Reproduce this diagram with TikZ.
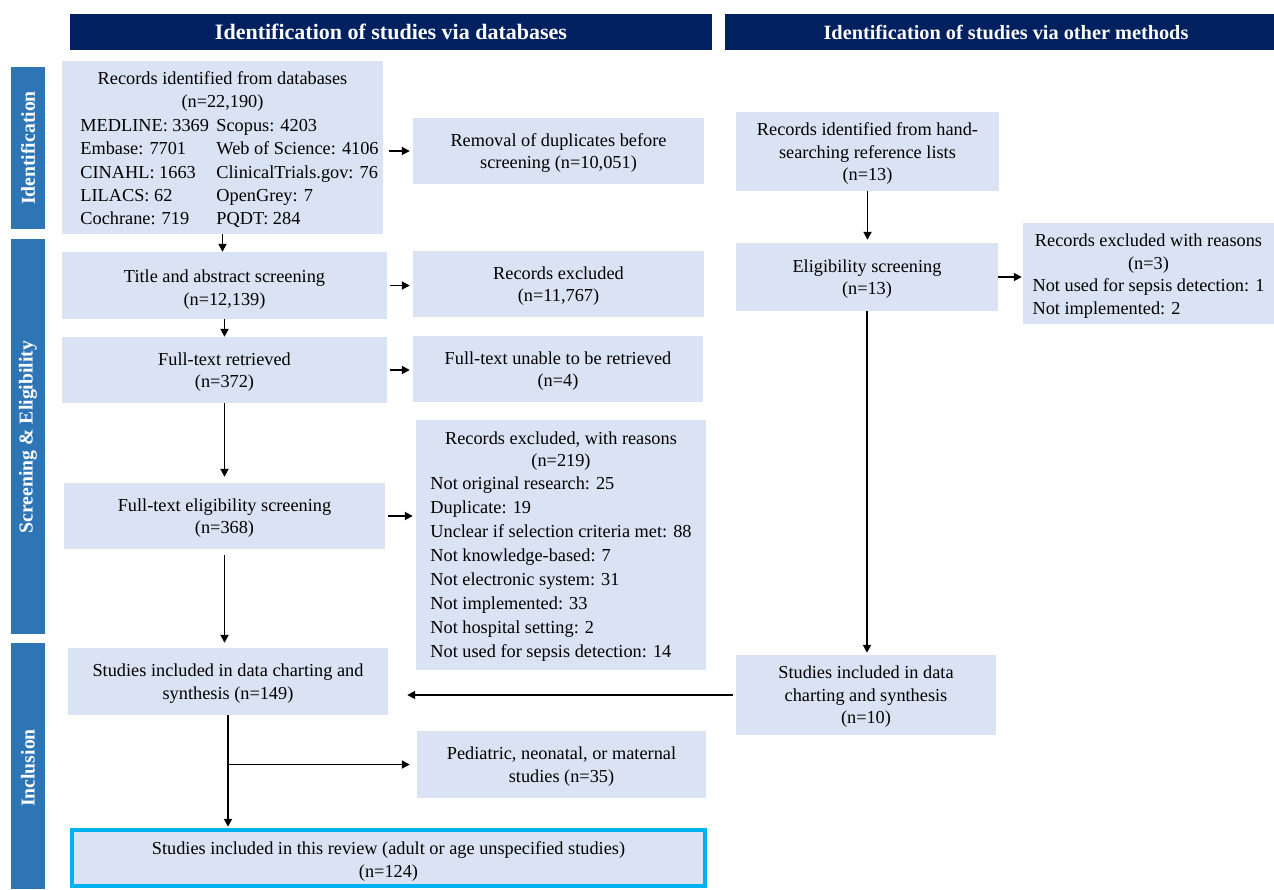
\documentclass[tikz,border=0pt]{standalone}
\usepackage{fontspec}
\setmainfont{Liberation Serif}
\usetikzlibrary{arrows.meta}
\definecolor{navy}{HTML}{002060}
\definecolor{sidec}{HTML}{2E75B6}
\definecolor{boxfill}{HTML}{DAE3F3}
\definecolor{cyanb}{HTML}{00B0F0}
\newcommand\bodyfs{\fontsize{18.3}{22.5}\selectfont}
% #1 style, #2 name, #3..#6 corners, #7 text shift (down), #8 text
\newcommand\pbox[8][box]{%
  \node[#1, minimum width={#5-#3}, minimum height={#6-#4}] (#2) at ({(#3+#5)/2},{(#4+#6)/2}) {};
  \node[txt] (#2t) at ([yshift=-#7pt]#2.center) {#8};}
\begin{document}
\begin{tikzpicture}[x=1pt,y=-1pt,
  box/.style={fill=boxfill, inner sep=0pt},
  txt/.style={inner sep=0pt, align=center, font=\bodyfs},
  hdr/.style={fill=navy, inner sep=0pt},
  hdrtxt/.style={text=white, inner sep=0pt, font=\bfseries},
  sidebar/.style={fill=sidec, inner sep=0pt},
  sidetxt/.style={text=white, inner sep=0pt, rotate=90, font=\bfseries\fontsize{19.7}{22}\selectfont},
  finalbox/.style={fill=boxfill, draw=cyanb, line width=4.5pt, inner sep=0pt},
  arr/.style={-{Triangle[length=8pt,width=8pt]}, line width=1.8pt}]
\useasboundingbox (0,0) rectangle (1274,889);
% headers
\node[hdr, minimum width=642, minimum height=36] (hdrA) at (391,32) {};
\node[hdr, minimum width=549, minimum height=36] (hdrB) at (999.5,32) {};
\node[hdrtxt, font=\bfseries\fontsize{22}{24}\selectfont] (hdrAt) at (391,32) {Identification of studies via databases};
\node[hdrtxt, font=\bfseries\fontsize{20.3}{24}\selectfont] (hdrBt) at (1006,32) {Identification of studies via other methods};
% sidebars
\node[sidebar, minimum width=34, minimum height=162] (sideI) at (28,148) {};
\node[sidebar, minimum width=34, minimum height=395] (sideS) at (28,436.5) {};
\node[sidebar, minimum width=34, minimum height=246] (sideN) at (28,766) {};
\node[sidetxt] (sideIt) at (28,148) {Identification};
\node[sidetxt] (sideSt) at (28,437) {Screening \& Eligibility};
\node[sidetxt] (sideNt) at (28,768) {Inclusion};
% left column
\pbox{db}{62}{61}{383}{234}{4}{Records identified from databases\\[0.7pt](n=22,190)\\[1.2pt]
  \begin{tabular}[t]{@{}p{136pt}@{}l@{\hspace{-14pt}}}
  MEDLINE: 3369 & Scopus: 4203\\[0.8pt]
  Embase: 7701 & Web of Science: 4106\\[0.8pt]
  CINAHL: 1663 & ClinicalTrials.gov: 76\\[0.8pt]
  LILACS: 62 & OpenGrey: 7\\[0.8pt]
  Cochrane: 719 & PQDT: 284
  \end{tabular}}
\pbox{dup}{413}{118}{704}{184}{2}{Removal of duplicates before\\screening (n=10,051)}
\pbox{tas}{62}{252}{387}{319}{4}{Title and abstract screening\\(n=12,139)}
\pbox{exc1}{413}{251}{704}{317}{2}{Records excluded\\(n=11,767)}
\pbox{ftr}{62}{337}{387}{403}{2}{Full-text retrieved\\(n=372)}
\pbox{ftu}{413}{336}{703}{402}{2}{Full-text unable to be retrieved\\(n=4)}
\pbox{fte}{64}{483}{385}{549}{2}{Full-text eligibility screening\\(n=368)}
\pbox{exc219}{416}{420}{706}{670}{3}{Records excluded, with reasons\\(n=219)\\
  \begin{tabular}[t]{@{}l@{}}
  Not original research: 25\\[1.6pt]
  Duplicate: 19\\[1.6pt]
  Unclear if selection criteria met: 88\\[1.6pt]
  Not knowledge-based: 7\\[1.6pt]
  Not electronic system: 31\\[1.6pt]
  Not implemented: 33\\[1.6pt]
  Not hospital setting: 2\\[1.6pt]
  Not used for sepsis detection: 14
  \end{tabular}}
\pbox{inc149}{68}{648}{388}{715}{2}{Studies included in data charting and\\synthesis (n=149)}
\pbox{ped}{417}{731}{706}{798}{2}{Pediatric, neonatal, or maternal\\studies (n=35)}
\pbox[finalbox]{final}{72}{830}{705}{886}{3.5}{Studies included in this review (adult or age unspecified studies)\\(n=124)}
% right column
\pbox{hand}{736}{112}{999}{191}{2.5}{Records identified from hand-\\searching reference lists\\(n=13)}
\pbox{elig2}{736}{243}{998}{311}{2}{Eligibility screening\\(n=13)}
\pbox{exc3}{1023}{223}{1274}{324}{4}{Records excluded with reasons\\(n=3)\\
  \begin{tabular}[t]{@{}l@{}}
  Not used for sepsis detection: 1\\
  Not implemented: 2
  \end{tabular}}
\pbox{inc10}{736}{655}{996}{735}{2}{Studies included in data\\charting and synthesis\\(n=10)}
% connectors
\draw[arr] (db.south) -- (db.south |- tas.north);
\draw[arr, shorten <=6pt, shorten >=3pt] (db.east |- dup.west) -- (dup.west);
\draw[arr, shorten <=3pt, shorten >=3pt] (tas.east) -- (exc1.west |- tas.east);
\draw[arr] (tas.south) -- (tas.south |- ftr.north);
\draw[arr, shorten <=3pt, shorten >=3pt] (ftr.east) -- (ftu.west |- ftr.east);
\draw[arr, shorten >=6pt] (ftr.south) -- (ftr.south |- fte.north);
\draw[arr, shorten <=3pt, shorten >=3pt] (fte.east) -- (exc219.west |- fte.east);
\draw[arr, shorten <=6pt, shorten >=5pt] (fte.south) -- (fte.south |- inc149.north);
\draw[arr, shorten >=3pt] (hand.south) -- (hand.south |- elig2.north);
\draw[arr, shorten >=1pt] (elig2.east) -- (exc3.west |- elig2.east);
\draw[arr, shorten >=2pt] (elig2.south) -- (elig2.south |- inc10.north);
\draw[arr, shorten <=3pt, shorten >=19pt] (inc10.west) -- (inc149.east |- inc10.west);
\draw[arr, shorten >=1pt] (inc149.south) -- (inc149.south |- final.north);
\coordinate (br) at (inc149.south |- ped.west);
\draw[arr, shorten >=7pt] (br) -- (ped.west);
\end{tikzpicture}
\end{document}
